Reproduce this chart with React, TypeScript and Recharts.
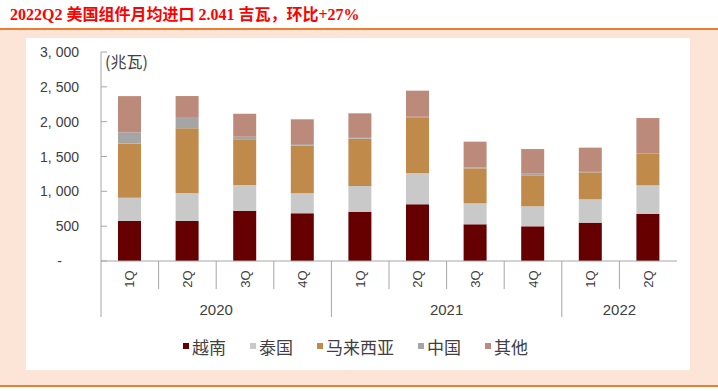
import { BarChart, Bar, XAxis, YAxis } from "recharts";

const QUARTERS = ["1Q", "2Q", "3Q", "4Q", "1Q", "2Q", "3Q", "4Q", "1Q", "2Q"];
const YEARS = ["2020", "2021", "2022"];
const YEAR_SPANS = [4, 4, 2];
const Y_TICKS = [0, 500, 1000, 1500, 2000, 2500, 3000];

// 兆瓦
const VIETNAM = [574, 574, 722, 685, 708, 814, 527, 498, 550, 675];
const THAILAND = [335, 402, 369, 287, 369, 445, 301, 287, 336, 411];
const MALAYSIA = [775, 929, 655, 683, 679, 803, 502, 445, 387, 450];
const CHINA = [163, 162, 38, 24, 24, 8, 15, 23, 19, 5];
const OTHER = [520, 301, 330, 355, 340, 375, 368, 354, 335, 511];

const SERIES = [
  { key: "vn", name: "越南", color: "#660000", values: VIETNAM },
  { key: "th", name: "泰国", color: "#C9C9C9", values: THAILAND },
  { key: "my", name: "马来西亚", color: "#C08A4B", values: MALAYSIA },
  { key: "cn", name: "中国", color: "#A5A5A5", values: CHINA },
  { key: "other", name: "其他", color: "#BC8A7A", values: OTHER },
];

const chartData = QUARTERS.map((q, i) => {
  const row: Record<string, string | number> = { q };
  SERIES.forEach((s) => {
    row[s.key] = s.values[i];
  });
  return row;
});

const AXIS_COLOR = "#A6A6A6";
const TEXT_COLOR = "#404040";
const SANS = "'Liberation Sans', Arial, sans-serif";
const CJK = "'Noto Sans CJK SC', sans-serif";

const yearStarts = YEAR_SPANS.map((_, i) =>
  YEAR_SPANS.slice(0, i).reduce((a, b) => a + b, 0)
);

function formatThousands(v: number) {
  return v.toLocaleString("en-US").replace(",", ", ");
}

function ValueTick(props: any) {
  const { x, y, payload } = props;
  const v = payload.value;
  const axisX = x + 22;
  return (
    <g>
      <line x1={axisX} x2={axisX + 6} y1={y} y2={y} stroke={AXIS_COLOR} />
      <text
        x={v === 0 ? x - 17 : x}
        y={y}
        dy={5}
        textAnchor="end"
        fontSize={14}
        fontFamily={SANS}
        fill={TEXT_COLOR}
      >
        {v === 0 ? "-" : formatThousands(v)}
      </text>
    </g>
  );
}

function QuarterTick(props: any) {
  const { x, y, payload, index, width, visibleTicksCount } = props;
  const half = payload.offset ?? width / visibleTicksCount / 2;
  const g = yearStarts.findIndex(
    (s, k) => index >= s && index < s + YEAR_SPANS[k]
  );
  const start = yearStarts[g];
  const span = YEAR_SPANS[g];
  const isYearEnd = index === start + span - 1;
  const isFinal = index === QUARTERS.length - 1;
  const mid = start + (span - 1) / 2;
  const showYear = index === Math.floor(mid);
  const yearX = x + (mid - Math.floor(mid)) * 2 * half;

  return (
    <g>
      {index === 0 && (
        <line
          x1={x - half}
          x2={x - half}
          y1={y}
          y2={y + 56}
          stroke={AXIS_COLOR}
        />
      )}
      {!isFinal && (
        <line
          x1={x + half}
          x2={x + half}
          y1={y}
          y2={y + (isYearEnd ? 56 : 28)}
          stroke={AXIS_COLOR}
        />
      )}
      <text
        transform={`translate(${x},${y + 18}) rotate(-90)`}
        textAnchor="middle"
        dominantBaseline="central"
        fontSize={13}
        fontFamily={SANS}
        fill={TEXT_COLOR}
      >
        {payload.value}
      </text>
      {showYear && (
        <text
          x={yearX}
          y={y + 48}
          textAnchor="middle"
          dominantBaseline="central"
          fontSize={15}
          fontFamily={SANS}
          fill={TEXT_COLOR}
        >
          {YEARS[g]}
        </text>
      )}
    </g>
  );
}

export default function App() {
  return (
    <div
      style={{
        position: "fixed",
        left: 0,
        top: 0,
        width: 718,
        height: 391,
        background: "#fff",
        overflow: "hidden",
      }}
    >
      <div
        style={{
          position: "absolute",
          left: 10,
          top: 4,
          lineHeight: "22px",
          fontSize: 16,
          fontWeight: "bold",
          color: "#FF0000",
          fontFamily: "'Liberation Serif', 'Noto Sans CJK SC', serif",
          whiteSpace: "nowrap",
        }}
      >
        2022Q2 美国组件月均进口 2.041 吉瓦，环比+27%
      </div>
      <div
        style={{
          position: "absolute",
          left: 0,
          top: 28,
          width: 718,
          height: 2,
          background: "#ED7D31",
        }}
      />
      <div
        style={{
          position: "absolute",
          left: 0,
          top: 30,
          width: 718,
          height: 355,
          background: "#FCE4D6",
        }}
      />
      <div
        style={{
          position: "absolute",
          left: 0,
          top: 385,
          width: 718,
          height: 2,
          background: "#ED7D31",
        }}
      />
      <div
        style={{
          position: "absolute",
          left: 26,
          top: 38,
          width: 664,
          height: 332,
          background: "#fff",
        }}
      />
      <div
        style={{
          position: "absolute",
          left: 105,
          top: 51,
          fontSize: 16,
          lineHeight: "20px",
          fontFamily: CJK,
          color: TEXT_COLOR,
        }}
      >
        (兆瓦)
      </div>
      <div style={{ position: "absolute", left: 0, top: 0 }}>
        <BarChart
          width={718}
          height={391}
          data={chartData}
          margin={{ top: 52, right: 41, left: 41, bottom: 70 }}
        >
          <XAxis
            dataKey="q"
            height={60}
            interval={0}
            tickLine={false}
            tickSize={0}
            tickMargin={0}
            axisLine={{ stroke: AXIS_COLOR }}
            tick={(p: any) => <QuarterTick {...p} />}
          />
          <YAxis
            width={60}
            domain={[0, 3000]}
            ticks={Y_TICKS}
            interval={0}
            tickLine={false}
            tickSize={0}
            tickMargin={22}
            axisLine={{ stroke: AXIS_COLOR }}
            tick={(p: any) => <ValueTick {...p} />}
          />
          {SERIES.map((s) => (
            <Bar
              key={s.key}
              dataKey={s.key}
              name={s.name}
              stackId="a"
              fill={s.color}
              barSize={23}
              isAnimationActive={false}
            />
          ))}
        </BarChart>
      </div>
      <div
        style={{
          position: "absolute",
          left: 183,
          top: 335,
          display: "flex",
          alignItems: "center",
          gap: 24,
          height: 22,
          fontSize: 17,
          fontFamily: CJK,
          color: TEXT_COLOR,
          whiteSpace: "nowrap",
        }}
      >
        {SERIES.map((s) => (
          <div key={s.key} style={{ display: "flex", alignItems: "center" }}>
            <span
              style={{
                width: 6,
                height: 6,
                background: s.color,
                marginRight: 3,
              }}
            />
            <span>{s.name}</span>
          </div>
        ))}
      </div>
    </div>
  );
}
